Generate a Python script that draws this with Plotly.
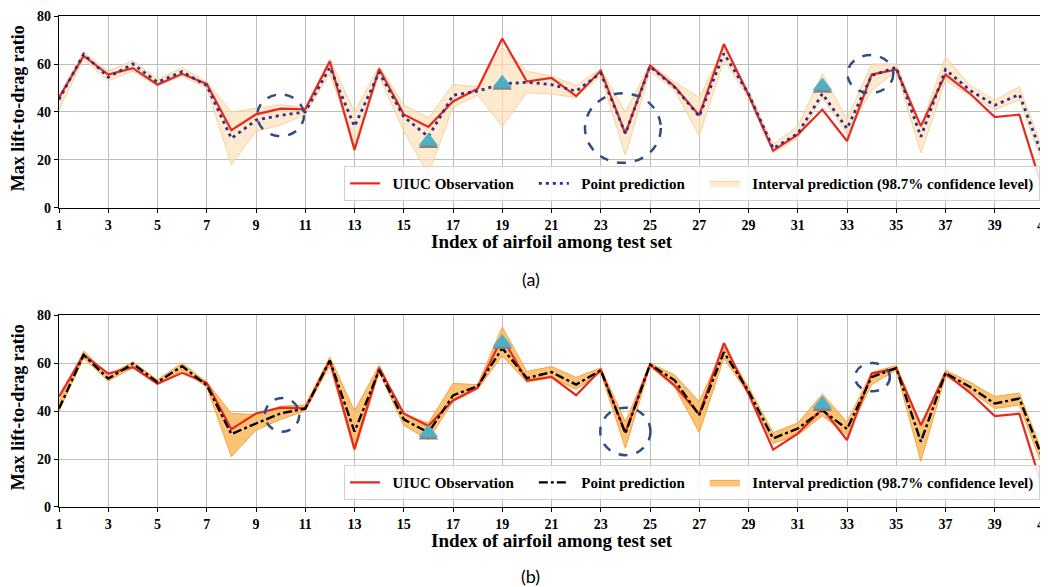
import plotly.graph_objects as go

# ---------------- data ----------------
idx = list(range(1, 42))
tick_vals = list(range(1, 42, 2))
y_ticks = [0, 20, 40, 60, 80]

obs = [46, 63.4, 55.6, 58.3, 51.4, 55.9, 51.7, 32.4, 39.0, 41.4, 41.1, 61.1, 24.2,
       58, 39, 33.8, 44.4, 49.7, 70.6, 52.7, 54.2, 46.6, 57.2, 31, 59.3, 50.6, 38.6,
       68.3, 47.2, 23.9, 30.6, 41, 27.9, 55.6, 57.7, 34.1, 55.6, 47.6, 37.9, 38.9, 5.9]

pred_a = [45.2, 64.1, 54.5, 60, 52.4, 56.8, 51, 29, 36.6, 38.6, 40, 58.6, 34,
          56.5, 38, 29.7, 47, 48.7, 51.7, 52.4, 51.4, 48.7, 56.2, 31, 58.9, 50.3, 38.2,
          64.4, 47.6, 24.8, 31, 47.6, 33.1, 55.2, 58.6, 29.7, 57.7, 49, 42.8, 47.3, 20]
lo_a = [41, 62, 53, 57, 51, 55, 50, 18, 32, 34.5, 39, 56, 27,
        55, 32, 14, 42, 47, 34, 48, 47.5, 46, 55, 22, 57, 49, 30,
        61.5, 46, 23, 29, 46, 31, 49, 57, 23, 53, 47, 41, 45, 17]
hi_a = [47, 65, 57, 61.5, 53.5, 58.5, 52.5, 40, 41.5, 43, 42, 62, 40,
        59, 43, 37.5, 51.5, 50.5, 67, 57, 55, 51, 58, 40, 60, 52.5, 46,
        67, 49, 26.5, 34, 56, 37, 60, 60, 34, 63, 51, 45, 50.5, 23]

pred_b = [41, 63.4, 53.5, 59.7, 52, 58.7, 50.7, 30.4, 34.8, 39, 41, 61, 31.4,
          57, 36.5, 31, 46.5, 50.3, 66.2, 53.7, 56.2, 51, 57, 30.7, 59.4, 52.8, 38.3,
          64.5, 48.3, 28.6, 32.7, 40.3, 32.5, 54.1, 57.9, 27.2, 55.8, 50, 43.1, 45.2, 18.9]
lo_b = [40, 62, 52.5, 58, 51, 57, 50, 21, 32, 36.5, 40, 59, 23,
        56, 34, 28, 44, 49, 63, 52, 54, 49, 56, 24.5, 58.5, 50, 31,
        62, 47, 26.5, 30, 38, 30, 51, 57, 19, 54.5, 48.5, 41, 42.5, 15]
hi_b = [44, 65, 55, 60.5, 53, 60, 52, 39, 38.5, 42, 42.5, 62.5, 40,
        59, 38.5, 35, 51.5, 51, 75, 56.5, 58.5, 54, 58, 35.5, 60, 55, 44,
        66.5, 50, 31, 35, 47, 35.5, 56, 59, 34, 57, 52, 46, 47.5, 21]

tri_x = [16, 19, 32]
tri_y_a = [27.8, 52, 50.8]
tri_y_b = [30.9, 68.6, 42.8]

# dashed ellipses: centre x, centre y, half-width (index units), half-height (ratio units)
circ_a = [(10.0, 38.6, 0.95, 8.7), (23.9, 33.3, 1.54, 14.5), (33.95, 55.8, 0.93, 7.9)]
circ_b = [(10.06, 38.4, 0.70, 7.0), (24.0, 31.5, 1.02, 9.9), (34.03, 54.1, 0.71, 5.9)]

name_obs = "UIUC Observation"
name_pred = "Point prediction"
name_int = "Interval prediction (98.7% confidence level)"
x_title = "Index of airfoil among test set"
y_title = "Max lift-to-drag ratio"

# ---------------- style ----------------
SERIF = "Liberation Serif, Times New Roman, serif"
RED = "#e8281e"
NAVY = "#2d2f8f"
BAND_A = "rgba(253,222,180,0.65)"
BAND_A_EDGE = "rgba(250,205,150,0.9)"
BAND_B = "rgba(252,185,95,0.85)"
BAND_B_EDGE = "rgba(245,165,60,1)"
TRI = "#4fafc8"
CIRC = "#2f4d80"
PADL = "&nbsp;&nbsp;"
PADR = "&nbsp;&nbsp;&nbsp;&nbsp;"

fig = go.Figure()

def add_panel(xa, ya, pred, lo, hi, tri_y, legend, band_fill, band_edge, pred_dash, pred_color, pred_width):
    fig.add_trace(go.Scatter(x=idx, y=lo, mode="lines", line=dict(color=band_edge, width=1),
                             xaxis=xa, yaxis=ya, showlegend=False, hoverinfo="skip"))
    fig.add_trace(go.Scatter(x=idx, y=hi, mode="lines", line=dict(color=band_edge, width=1),
                             fill="tonexty", fillcolor=band_fill, xaxis=xa, yaxis=ya,
                             name=PADL + name_int, legend=legend, legendrank=3))
    fig.add_trace(go.Scatter(x=idx, y=obs, mode="lines", line=dict(color=RED, width=2.2),
                             xaxis=xa, yaxis=ya, name=PADL + name_obs + PADR, legend=legend,
                             legendrank=1))
    fig.add_trace(go.Scatter(x=idx, y=pred, mode="lines",
                             line=dict(color=pred_color, width=pred_width, dash=pred_dash),
                             xaxis=xa, yaxis=ya, name=PADL + name_pred + PADR, legend=legend,
                             legendrank=2))
    # triangle shadow + triangle
    fig.add_trace(go.Scatter(x=tri_x, y=[v - 1.0 for v in tri_y], mode="markers",
                             marker=dict(symbol="triangle-up", size=17, color="#8a8278"),
                             xaxis=xa, yaxis=ya, showlegend=False, hoverinfo="skip"))
    fig.add_trace(go.Scatter(x=tri_x, y=tri_y, mode="markers",
                             marker=dict(symbol="triangle-up", size=17, color=TRI),
                             xaxis=xa, yaxis=ya, showlegend=False, hoverinfo="skip"))

add_panel("x", "y", pred_a, lo_a, hi_a, tri_y_a, "legend", BAND_A, BAND_A_EDGE, "3px,4px", NAVY, 2.8)
add_panel("x2", "y2", pred_b, lo_b, hi_b, tri_y_b, "legend2", BAND_B, BAND_B_EDGE, "dashdot", "black", 2.4)

shapes = []
for (cx, cy, rx, ry) in circ_a:
    shapes.append(dict(type="circle", xref="x", yref="y", x0=cx - rx, x1=cx + rx, y0=cy - ry, y1=cy + ry,
                       line=dict(color=CIRC, width=2.5, dash="dash"), layer="above"))
for (cx, cy, rx, ry) in circ_b:
    shapes.append(dict(type="circle", xref="x2", yref="y2", x0=cx - rx, x1=cx + rx, y0=cy - ry, y1=cy + ry,
                       line=dict(color=CIRC, width=2.5, dash="dash"), layer="above"))

axis_common = dict(showline=True, mirror=True, linecolor="black", linewidth=1.2,
                   showgrid=True, gridcolor="#bdbdbd", gridwidth=1, automargin=False,
                   ticks="outside", ticklen=4, tickcolor="black", zeroline=False,
                   ticklabeloverflow="allow",
                   tickfont=dict(family=SERIF, size=14, color="black", weight="bold"))

legend_common = dict(orientation="h", xanchor="right", yanchor="bottom",
                     bgcolor="rgba(255,255,255,0.85)", bordercolor="#d0d0d0", borderwidth=1,
                     font=dict(family=SERIF, size=15, color="black", weight="bold"),
                     itemwidth=30, traceorder="normal")

title_font_x = dict(family=SERIF, size=19, color="black", weight="bold")
title_font_y = dict(family=SERIF, size=18, color="black", weight="bold")
cap_font = dict(family="Lato, Open Sans, sans-serif", size=18, color="black")

annotations = []
for xr, yr in (("x", "y"), ("x2", "y2")):
    annotations.append(dict(text=x_title, xref=xr + " domain", yref=yr + " domain", x=0.5, y=-0.175,
                            xanchor="center", yanchor="middle", showarrow=False, font=title_font_x))
    annotations.append(dict(text=y_title, xref="paper", yref=yr + " domain", x=-0.0416, y=0.52,
                            xanchor="center", yanchor="middle", textangle=-90, showarrow=False,
                            font=title_font_y))
annotations.append(dict(text="(a)", xref="paper", yref="paper", x=0.479, y=0.464, yanchor="middle",
                        showarrow=False, font=cap_font))
annotations.append(dict(text="(b)", xref="paper", yref="paper", x=0.479, y=-0.1405, yanchor="middle",
                        showarrow=False, font=cap_font))

# the page adds an 8 px body margin, so the figure is placed at (8, 8)
fig.update_layout(
    width=1040, height=579,
    margin=dict(l=51, r=4, t=8, b=80, autoexpand=False),
    paper_bgcolor="white", plot_bgcolor="white",
    xaxis=dict(domain=[0, 1], range=[1, 41], tickvals=tick_vals, anchor="y", **axis_common),
    yaxis=dict(domain=[0.609, 1], range=[0, 80], tickvals=y_ticks, anchor="x", **axis_common),
    xaxis2=dict(domain=[0, 1], range=[1, 41], tickvals=tick_vals, anchor="y2", **axis_common),
    yaxis2=dict(domain=[0, 0.391], range=[0, 80], tickvals=y_ticks, anchor="x2", **axis_common),
    legend=dict(x=0.996, y=0.623, **legend_common),
    legend2=dict(x=0.996, y=0.014, **legend_common),
    shapes=shapes,
    annotations=annotations,
    showlegend=True,
)

fig.write_html("out.html")
